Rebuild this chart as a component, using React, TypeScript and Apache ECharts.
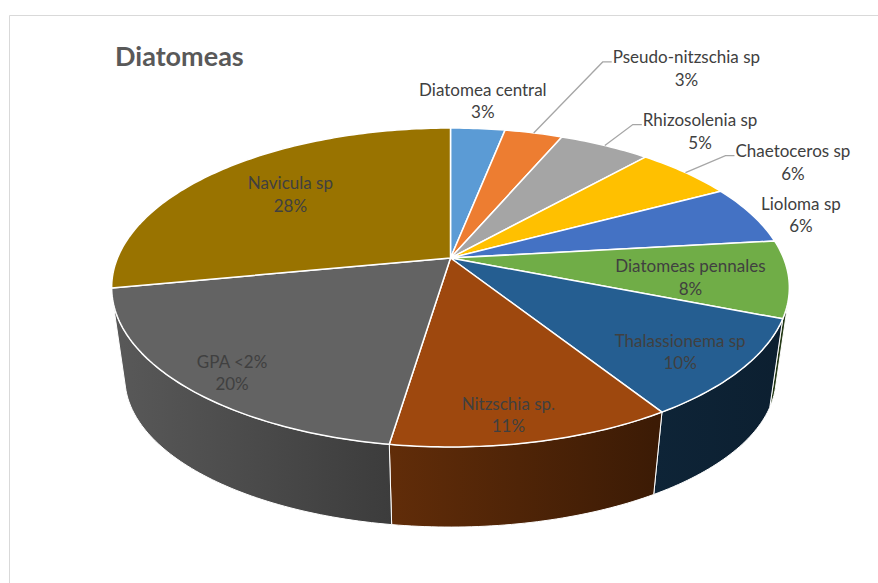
import React, { useEffect, useRef } from "react";
import * as echarts from "echarts";

// ---------- data ----------
const title = "Diatomeas";
const categories = [
  "Diatomea central",
  "Pseudo-nitzschia sp",
  "Rhizosolenia sp",
  "Chaetoceros sp",
  "Lioloma sp",
  "Diatomeas pennales",
  "Thalassionema sp",
  "Nitzschia sp.",
  "GPA <2%",
  "Navicula sp",
];
const values = [3.1, 3.3, 5.2, 5.6, 6.0, 7.8, 10.0, 11.4, 19.6, 28.0];
const colors = [
  "#5B9BD5",
  "#ED7D31",
  "#A5A5A5",
  "#FFC000",
  "#4472C4",
  "#70AD47",
  "#255E91",
  "#9E480E",
  "#636363",
  "#997300",
];

// ---------- layout (label placement relative to computed slice anchors) ----------
type LabelLayout = { mode: "inside" | "outside" | "leader"; f?: number; dx: number; dy: number };
const labelLayout: LabelLayout[] = [
  { mode: "outside", dx: 5, dy: -28 },
  { mode: "leader", dx: 69, dy: -71 },
  { mode: "leader", dx: 28, dy: -21 },
  { mode: "leader", dx: 40, dy: -17 },
  { mode: "outside", dx: 49, dy: 0 },
  { mode: "inside", f: 0.72, dx: -2, dy: 4 },
  { mode: "inside", f: 0.8, dx: 3, dy: 7 },
  { mode: "inside", f: 0.85, dx: -11, dy: 5 },
  { mode: "inside", f: 0.85, dx: 3, dy: 8 },
  { mode: "inside", f: 0.66, dx: -3, dy: -4 },
];

const CX = 450.5;
const TOP = { cy: 258, R: 333, A: 154, p: 0.185 };
const BOT = { cy: 350.5, R: 320, A: 143.9, p: 0.185 };
const FONT = "Lato";
const LABEL_SIZE = 17;
const LINE_H = 22.5;
const TEXT_COLOR = "#404040";

const total = values.reduce((a, b) => a + b, 0);
const starts: number[] = [];
{
  let acc = 0;
  values.forEach((v) => {
    starts.push((acc / total) * 360);
    acc += v;
  });
}

type Face = { cy: number; R: number; A: number; p: number };
function proj(face: Face, deg: number, f = 1): number[] {
  const t = (deg * Math.PI) / 180;
  const u = Math.sin(t) * f;
  const v = -Math.cos(t) * f;
  const d = 1 - face.p * v;
  return [CX + (face.R * u) / d, face.cy + (face.A * v) / d];
}
function arcPts(face: Face, a: number, b: number, f = 1): number[][] {
  const n = Math.max(2, Math.ceil(b - a));
  const pts: number[][] = [];
  for (let i = 0; i <= n; i++) pts.push(proj(face, a + ((b - a) * i) / n, f));
  return pts;
}
function shade(hex: string, k: number): string {
  const n = parseInt(hex.slice(1), 16);
  const r = (n >> 16) & 255,
    g = (n >> 8) & 255,
    b = n & 255;
  return `rgb(${Math.round(r * k)},${Math.round(g * k)},${Math.round(b * k)})`;
}
function signedArea(q: number[][]): number {
  let s = 0;
  for (let i = 0; i < q.length; i++) {
    const a = q[i],
      b = q[(i + 1) % q.length];
    s += a[0] * b[1] - b[0] * a[1];
  }
  return s / 2;
}
function frontRange(a: number, b: number): number[] | null {
  const step = 0.25;
  let s: number | null = null,
    e: number | null = null;
  for (let t = a; t < b - 1e-9; t += step) {
    const t2 = Math.min(b, t + step);
    const q = [proj(TOP, t), proj(TOP, t2), proj(BOT, t2), proj(BOT, t)];
    if (signedArea(q) < 0) {
      if (s === null) s = t;
      e = t2;
    }
  }
  return s === null || e === null ? null : [s, e];
}

let measureCtx: CanvasRenderingContext2D | null = null;
function textWidth(s: string): number {
  if (!measureCtx) measureCtx = document.createElement("canvas").getContext("2d");
  if (!measureCtx) return s.length * 8;
  measureCtx.font = `${LABEL_SIZE}px ${FONT}`;
  return measureCtx.measureText(s).width;
}

function sliceRange(i: number): number[] {
  const a = starts[i];
  const b = a + (values[i] / total) * 360;
  return [a, b];
}

export default function App() {
  const ref = useRef<HTMLDivElement>(null);
  useEffect(() => {
    if (!ref.current) return;
    const chart = echarts.init(ref.current, undefined, { renderer: "svg" });
    const data = values.map((v, i) => ({ name: categories[i], value: v }));

    const wallSeries = {
      type: "custom",
      coordinateSystem: "none",
      silent: true,
      z: 2,
      clip: false,
      data,
      renderItem: (params: any) => {
        const i = params.dataIndex;
        const [a, b] = sliceRange(i);
        const r = frontRange(a, b);
        if (!r) return { type: "group", children: [] };
        const pts = arcPts(TOP, r[0], r[1]).concat(arcPts(BOT, r[0], r[1]).reverse());
        const c = colors[i];
        return {
          type: "polygon",
          shape: { points: pts },
          style: {
            fill: {
              type: "linear",
              x: 112,
              y: 0,
              x2: 790,
              y2: 0,
              global: true,
              colorStops: [
                { offset: 0, color: shade(c, 0.9) },
                { offset: 0.4, color: shade(c, 0.62) },
                { offset: 0.8, color: shade(c, 0.38) },
                { offset: 1, color: shade(c, 0.33) },
              ],
            },
            stroke: "#ffffff",
            lineWidth: 1,
            lineJoin: "round",
          },
        };
      },
    };

    const topSeries = {
      type: "custom",
      coordinateSystem: "none",
      silent: true,
      z: 3,
      clip: false,
      data,
      renderItem: (params: any) => {
        const i = params.dataIndex;
        const [a, b] = sliceRange(i);
        const pts = [proj(TOP, 0, 0)].concat(arcPts(TOP, a, b));
        return {
          type: "polygon",
          shape: { points: pts },
          style: {
            fill: colors[i],
            stroke: "#ffffff",
            lineWidth: 1.5,
            lineJoin: "round",
          },
        };
      },
    };

    const labelSeries = {
      type: "custom",
      coordinateSystem: "none",
      silent: true,
      z: 4,
      clip: false,
      data,
      renderItem: (params: any) => {
        const i = params.dataIndex;
        const [a, b] = sliceRange(i);
        const mid = (a + b) / 2;
        const L = labelLayout[i];
        const pct = Math.round((values[i] / total) * 100) + "%";
        const text = categories[i] + "\n" + pct;
        const textStyleBase = {
          text,
          font: `${LABEL_SIZE}px ${FONT}`,
          fill: TEXT_COLOR,
          align: "center",
          verticalAlign: "middle",
          lineHeight: LINE_H,
        };
        if (L.mode === "inside" || L.mode === "outside") {
          const p = proj(TOP, mid, L.mode === "inside" ? L.f ?? 0.7 : 1);
          return {
            type: "text",
            style: { ...textStyleBase, x: p[0] + L.dx, y: p[1] + L.dy },
          };
        }
        const anchor = proj(TOP, mid, 1);
        const elbow = [anchor[0] + L.dx, anchor[1] + L.dy];
        const tail = [elbow[0] + 9, elbow[1]];
        const w = Math.max(textWidth(categories[i]), textWidth(pct));
        const cx = tail[0] + 1 + w / 2;
        const cy = elbow[1] - 5 + LINE_H / 2;
        return {
          type: "group",
          children: [
            {
              type: "polyline",
              shape: { points: [anchor, elbow, tail] },
              style: { stroke: "#a6a6a6", lineWidth: 1.3, fill: "none" },
            },
            {
              type: "text",
              style: { ...textStyleBase, x: cx, y: cy },
            },
          ],
        };
      },
    };

    chart.setOption({
      animation: false,
      backgroundColor: "#ffffff",
      graphic: [
        {
          type: "rect",
          shape: { x: 9.5, y: 15.5, width: 1000, height: 1000 },
          style: { fill: "none", stroke: "#d9d9d9", lineWidth: 1 },
          silent: true,
        },
        {
          type: "text",
          x: 115,
          y: 55,
          style: {
            text: title,
            font: `bold 27px ${FONT}`,
            fill: "#595959",
            verticalAlign: "middle",
          },
          silent: true,
        },
      ],
      series: [wallSeries, topSeries, labelSeries],
    } as any);
    return () => chart.dispose();
  }, []);
  return (
    <div
      ref={ref}
      style={{ position: "fixed", left: 0, top: 0, width: 878, height: 583, background: "#fff" }}
    />
  );
}
